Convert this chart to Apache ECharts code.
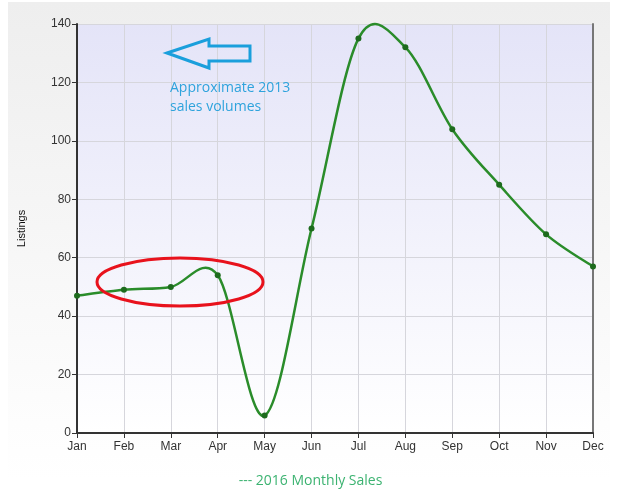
<!DOCTYPE html>
<html><head><meta charset="utf-8">
<script src="https://cdn.jsdelivr.net/npm/echarts@6/dist/echarts.min.js"></script>
<style>html,body{margin:0;padding:0;background:#fff}#c{width:621px;height:495px}</style>
</head><body><div id="c"></div>
<script>
var months = ['Jan','Feb','Mar','Apr','May','Jun','Jul','Aug','Sep','Oct','Nov','Dec'];
var sales2016 = [47, 49, 50, 54, 6, 70, 135, 132, 104, 85, 68, 57];
var yTicks = {min: 0, max: 140, interval: 20};

// Catmull-Rom spline segment between point i and i+1, drawn via the axes' coordinates
function renderSegment(params, api) {
  var i = params.dataIndex;
  var n = sales2016.length;
  if (i >= n - 1) return null;
  function pt(k) { k = Math.max(0, Math.min(n - 1, k)); return api.coord([k, sales2016[k]]); }
  var p0 = pt(i - 1), p1 = pt(i), p2 = pt(i + 1), p3 = pt(i + 2);
  return {
    type: 'bezierCurve',
    shape: {
      x1: p1[0], y1: p1[1], x2: p2[0], y2: p2[1],
      cpx1: p1[0] + (p2[0] - p0[0]) / 6, cpy1: p1[1] + (p2[1] - p0[1]) / 6,
      cpx2: p2[0] - (p3[0] - p1[0]) / 6, cpy2: p2[1] - (p3[1] - p1[1]) / 6
    },
    style: {fill: 'none', stroke: '#2a8c2a', lineWidth: 2.5}
  };
}

var chart = echarts.init(document.getElementById('c'), null, {renderer: 'canvas'});
chart.setOption({
  animation: false,
  backgroundColor: '#ffffff',
  graphic: [
    {type: 'rect', z: -10, silent: true, shape: {x: 8, y: 2, width: 602, height: 478},
      style: {fill: new echarts.graphic.LinearGradient(0, 0, 0, 1, [
        {offset: 0, color: '#eeeeee'}, {offset: 1, color: '#ffffff'}])}},
    {type: 'polygon', z: 100, shape: {points: [[167,53],[209,39],[209,46],[250,46],[250,61],[209,61],[209,68]]},
      style: {fill: 'none', stroke: '#1a9fdc', lineWidth: 3}},
    {type: 'text', z: 100, left: 170, top: 79, style: {text: 'Approximate 2013\nsales volumes', fill: '#2ea3dc',
      font: '14px "Open Sans", sans-serif', lineHeight: 19}},
    {type: 'ellipse', z: 100, shape: {cx: 180, cy: 282, rx: 83, ry: 24},
      style: {fill: 'none', stroke: '#e8121c', lineWidth: 3}},
    {type: 'text', z: 100, left: 'center', top: 474, style: {text: '--- 2016 Monthly Sales', fill: '#3cb371',
      font: '14px "Open Sans", sans-serif'}}
  ],
  grid: {left: 77, right: 28, top: 24, bottom: 62, show: true, borderWidth: 0,
    backgroundColor: new echarts.graphic.LinearGradient(0, 0, 0, 1, [
      {offset: 0, color: '#e4e4f8'}, {offset: 1, color: '#ffffff'}])},
  xAxis: {
    type: 'category', data: months, boundaryGap: false,
    axisLine: {lineStyle: {color: '#333', width: 2}},
    axisTick: {show: true, length: 5, lineStyle: {color: '#333'}},
    axisLabel: {color: '#333', fontSize: 12, fontFamily: 'Liberation Sans, Arial', margin: 8},
    splitLine: {show: true, lineStyle: {color: '#d6d6dc'}}
  },
  yAxis: [{
    type: 'value', min: yTicks.min, max: yTicks.max, interval: yTicks.interval,
    name: 'Listings', nameLocation: 'middle', nameGap: 50, nameRotate: 90,
    nameTextStyle: {color: '#111', fontSize: 11, fontFamily: 'Liberation Sans, Arial'},
    axisLine: {show: true, lineStyle: {color: '#333', width: 2}},
    axisTick: {show: true, length: 5, lineStyle: {color: '#333'}},
    axisLabel: {color: '#333', fontSize: 12, fontFamily: 'Liberation Sans, Arial', margin: 6},
    splitLine: {show: true, lineStyle: {color: '#d6d6dc'}}
  }, {
    type: 'value', min: yTicks.min, max: yTicks.max, interval: yTicks.interval, position: 'right',
    axisLine: {show: true, lineStyle: {color: '#777', width: 2}},
    axisTick: {show: false}, axisLabel: {show: false}, splitLine: {show: false}
  }],
  series: [{
    type: 'custom', name: '2016 Monthly Sales', renderItem: renderSegment,
    data: sales2016.map(function (v, i) { return [i, v]; }), z: 2, clip: false
  }, {
    type: 'line', data: sales2016, symbol: 'circle', symbolSize: 6, z: 3,
    lineStyle: {opacity: 0}, itemStyle: {color: '#1d6b1d'}
  }]
});
</script></body></html>
